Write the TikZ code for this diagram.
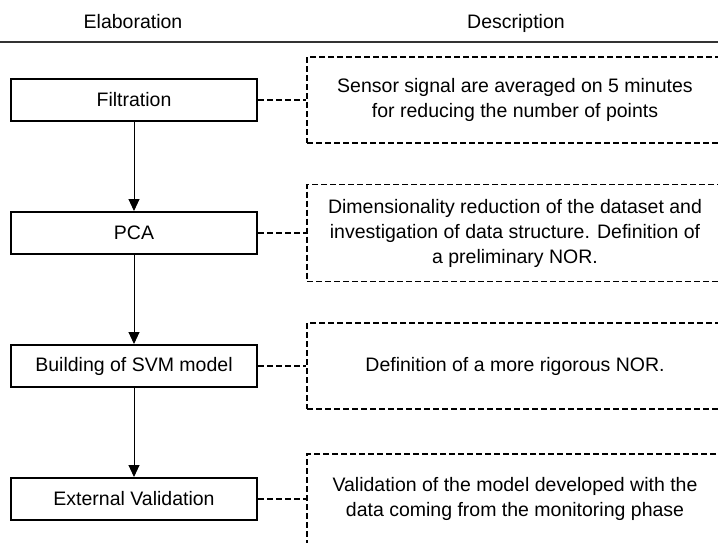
\documentclass[tikz,border=0pt]{standalone}
\usepackage{fontspec}
\setmainfont{Liberation Sans}
\usetikzlibrary{arrows.meta}
\usetikzlibrary{positioning}

\begin{document}
\begin{tikzpicture}[x=0.5pt,y=-0.5pt,node distance=66.5pt,on grid,
    font=\fontsize{9.75}{12.5}\selectfont,
    elab/.style={draw,line width=1pt,minimum width=123pt,minimum height=21pt,inner sep=0pt},
    desc/.style={draw,line width=0.9pt,dash pattern=on 3pt off 1.5pt,minimum width=208pt,minimum height=43pt,align=center,inner sep=0pt},
    link/.style={line width=0.9pt,dash pattern=on 3pt off 1.5pt},
    flow/.style={line width=0.5pt,-{Triangle[width=5.5pt,length=6pt]}}]
   \clip[use as bounding box] (0,0) rectangle (718,542);
   % column titles
   \node[anchor=base] (t_el) at (133,28) {Elaboration};
   \node[anchor=base] (t_de) at (516,28) {Description};
   \coordinate (r_l) at (0,42);
   \coordinate (r_r) at (718,42);
   \draw[line width=0.8pt,black!80] (r_l) -- (r_r);
   % steps
   \node[elab] (el_1) at (134,100) {Filtration};
   \node[elab] (el_2) [below=of el_1] {PCA};
   \node[elab] (el_3) [below=of el_2] {Building of SVM model};
   \node[elab] (el_4) [below=of el_3] {External Validation};
   % descriptions
   \node[desc] (de_1) [right=190.5pt of el_1] {Sensor signal are averaged on 5 minutes\\for reducing the number of points};
   \node[desc,minimum height=48.5pt] (de_2) [right=190.5pt of el_2] {Dimensionality reduction of the dataset and\\investigation of data structure. Definition of\\a preliminary NOR.};
   \node[desc] (de_3) [right=190.5pt of el_3] {Definition of a more rigorous NOR.};
   \node[desc,minimum height=45pt] (de_4) [right=190.5pt of el_4] {Validation of the model developed with the\\data coming from the monitoring phase};
    \path[flow]
    (el_1) edge (el_2)
    (el_2) edge (el_3)
    (el_3) edge (el_4);
    \path[link]
    (el_1) edge (de_1)
    (el_2) edge (de_2)
    (el_3) edge (de_3)
    (el_4) edge (de_4);
\end{tikzpicture}
\end{document}
